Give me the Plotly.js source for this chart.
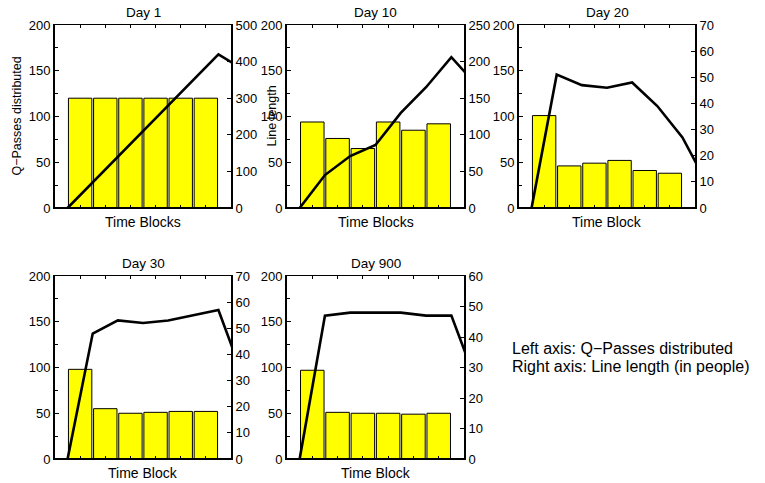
<!DOCTYPE html>
<html>
<head>
<meta charset="utf-8">
<script src="https://cdn.plot.ly/plotly-3.0.1.min.js"></script>
<style>html,body{margin:0;padding:0;background:#fff;}#chart{width:765px;height:483px;}</style>
</head>
<body>
<div id="chart"></div>
<script>
// ---- data ----
const days = ["Day 1", "Day 10", "Day 20", "Day 30", "Day 900"];
const xTitles = ["Time Blocks", "Time Blocks", "Time Block", "Time Block", "Time Block"];
const blocks = [1, 2, 3, 4, 5, 6];
const lineX = [0.5, 1.5, 2.5, 3.5, 4.5, 5.5, 6.5, 7.5];
const passesDay1 = [120, 120, 120, 120, 120, 120];
const passesDay10 = [94, 76, 65, 94, 85, 92];
const passesDay20 = [101, 46, 49, 52, 41, 38];
const passesDay30 = [98, 55, 50, 51, 52, 52];
const passesDay900 = [97, 51, 50, 50, 49, 50];
const lineDay1 = [0, 70, 140, 210, 280, 350, 420, 378];
const lineDay10 = [0, 45, 71, 86, 130, 165, 206, 168];
const lineDay20 = [0, 51, 47, 46, 48, 39, 27, 9];
const lineDay30 = [0, 48, 53, 52, 53, 55, 57, 31];
const lineDay900 = [0, 47, 48, 48, 48, 47, 47, 25];
const leftMax = 200;
const leftStep = 50;
const rightMax = [500, 250, 70, 70, 60];
const rightStep = [100, 50, 10, 10, 10];
const leftTitle = "Q\u2212Passes distributed";
const rightTitle = "Line length";
const noteLines = ["Left axis: Q\u2212Passes distributed", "Right axis: Line length (in people)"];

const passes = [passesDay1, passesDay10, passesDay20, passesDay30, passesDay900];
const lines = [lineDay1, lineDay10, lineDay20, lineDay30, lineDay900];

// ---- layout geometry (pixels) ----
const W = 765, H = 483;
const boxes = [
  [55, 231, 25, 208],
  [287, 464, 25, 208],
  [519, 695, 25, 208],
  [55, 231, 276, 459],
  [287, 464, 276, 459]
];
const px = v => v / W;
const py = v => 1 - v / H;

const FONT = "Liberation Sans, Arial, Helvetica, sans-serif";
const traces = [];
const layout = {
  width: W, height: H,
  margin: {l: 0, r: 0, t: 0, b: 0},
  paper_bgcolor: "#fff", plot_bgcolor: "#fff",
  showlegend: false,
  font: {family: FONT, size: 13, color: "#000"},
  annotations: [], shapes: []
};

boxes.forEach((b, i) => {
  const n = i + 1;
  const xa = n === 1 ? "x" : "x" + n;
  const yl = 2 * n - 1, yr = 2 * n;
  const ylName = yl === 1 ? "y" : "y" + yl;
  const yrName = "y" + yr;
  const xd = [px(b[0]), px(b[1])];
  const yd = [py(b[3]), py(b[2])];

  traces.push({
    type: "bar", x: blocks, y: passes[i], xaxis: xa, yaxis: ylName,
    width: 0.93,
    marker: {color: "#ffff00", line: {color: "#000", width: 1}},
    hoverinfo: "skip"
  });
  traces.push({
    type: "scatter", mode: "lines", x: lineX, y: lines[i], xaxis: xa, yaxis: yrName,
    line: {color: "#000", width: 2.6}, hoverinfo: "skip"
  });

  layout["xaxis" + (n === 1 ? "" : n)] = {
    domain: xd, anchor: ylName, range: [0, 7],
    showgrid: false, zeroline: false, showticklabels: false,
    ticks: "inside", ticklen: 3, tickcolor: "#000", dtick: 1, tick0: 0,
    showline: true, linecolor: "#000", linewidth: 1, mirror: "ticks"
  };
  layout["yaxis" + (yl === 1 ? "" : yl)] = {
    domain: yd, anchor: xa, range: [0, leftMax],
    dtick: leftStep, tick0: 0,
    showgrid: false, zeroline: false,
    ticks: "inside", ticklen: 4, tickcolor: "#000",
    minor: {dtick: leftStep / 2, ticks: "inside", ticklen: 3, tickcolor: "#000"},
    showline: true, linecolor: "#000", linewidth: 2, mirror: false,
    tickfont: {family: FONT, size: 13, color: "#000"}
  };
  layout["yaxis" + yr] = {
    overlaying: ylName, side: "right", anchor: xa, range: [0, rightMax[i]],
    dtick: rightStep[i], tick0: 0,
    showgrid: false, zeroline: false,
    ticks: "inside", ticklen: 4, tickcolor: "#000",
    showline: true, linecolor: "#000", linewidth: 2,
    tickfont: {family: FONT, size: 13, color: "#000"}
  };
  // thicker bottom edge
  layout.shapes.push({type: "line", xref: "paper", yref: "paper",
    x0: px(b[0]), x1: px(b[1]), y0: py(b[3]), y1: py(b[3]),
    line: {color: "#000", width: 2}});
  // title
  layout.annotations.push({xref: "paper", yref: "paper", x: px((b[0] + b[1]) / 2), y: py(b[2] - 13),
    text: days[i], showarrow: false, xanchor: "center", yanchor: "middle",
    font: {family: FONT, size: 13.5, color: "#000"}});
  // x title
  layout.annotations.push({xref: "paper", yref: "paper", x: px((b[0] + b[1]) / 2), y: py(b[3] + 14),
    text: xTitles[i], showarrow: false, xanchor: "center", yanchor: "middle",
    font: {family: FONT, size: 14, color: "#000"}});
});

// y titles for first panel
layout.annotations.push({xref: "paper", yref: "paper", x: px(16), y: py(116.5),
  text: leftTitle, showarrow: false, textangle: -90, xanchor: "center", yanchor: "middle",
  font: {family: FONT, size: 12.5, color: "#000"}});
layout.annotations.push({xref: "paper", yref: "paper", x: px(271), y: py(116.5),
  text: rightTitle, showarrow: false, textangle: -90, xanchor: "center", yanchor: "middle",
  font: {family: FONT, size: 12.5, color: "#000"}});

// note text
noteLines.forEach((t, k) => {
  layout.annotations.push({xref: "paper", yref: "paper", x: px(510), y: py(348 + 18 * k),
    text: t, showarrow: false, xanchor: "left", yanchor: "middle",
    font: {family: FONT, size: 16, color: "#000"}});
});

Plotly.newPlot("chart", traces, layout, {displayModeBar: false, staticPlot: true});
</script>
</body>
</html>
